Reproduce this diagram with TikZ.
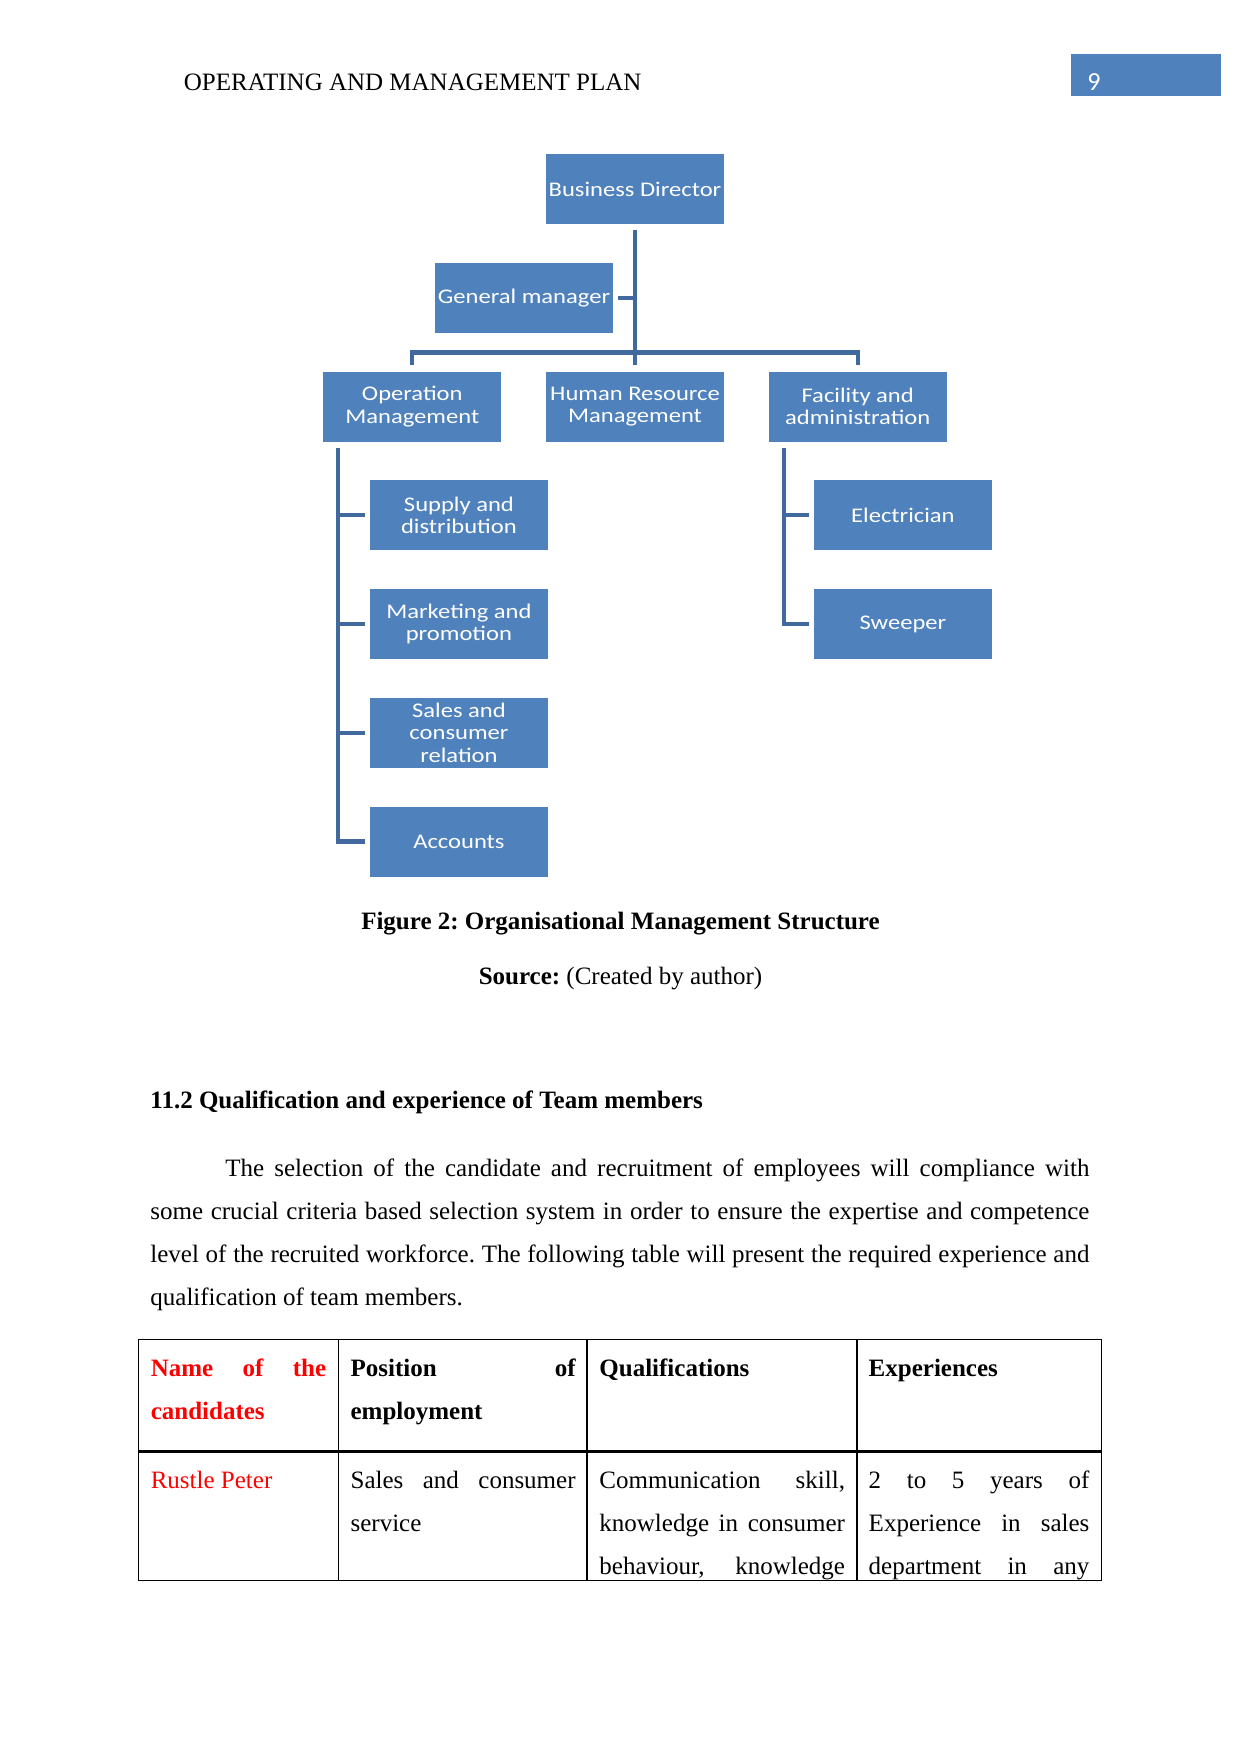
\documentclass[tikz,border=0pt]{standalone}
\usepackage{fontspec}
\setmainfont{Liberation Serif}
\newfontfamily\chartfont[FakeStretch=1.18]{Carlito}
\newfontfamily\numfont{Carlito}
\usepackage{tikz}
\usetikzlibrary{positioning}
\definecolor{boxblue}{HTML}{4F81BD}
\definecolor{linkblue}{HTML}{41699D}
\definecolor{namered}{HTML}{FF0000}
\tolerance=9999
\hbadness=10000
\frenchspacing

\begin{document}
\begin{tikzpicture}[
        x=0.48pt, y=-0.48pt,
        node distance = 18.2pt and 21.1pt,
        unit/.style = {fill=boxblue, text=white, inner sep=0pt, minimum width=85.4pt, minimum height=33.6pt, align=center, font=\chartfont\fontsize{10pt}{10.7pt}\selectfont},
        link/.style = {draw=linkblue, line width=2.1pt},
        body/.style = {inner sep=0pt, font=\fontsize{12pt}{20.74pt}\selectfont},
        cell/.style = {body, anchor=base west, align=justify},
    ]
        \path[use as bounding box, fill=white] (0,0) rectangle (1241,1754);

        % page header
        \node[body, anchor=base west] (head) at (183.5,90) {OPERATING AND MANAGEMENT PLAN};
        \node[fill=boxblue, inner sep=0pt, minimum width=72pt, minimum height=20pt, anchor=north west] (numbox) at (1071,54) {};
        \node[inner sep=0pt, anchor=base west, text=white, font=\numfont\fontsize{12.5pt}{14pt}\selectfont] (pgnum) at (1087,90) {9};

        % organisation chart
        \node[unit] (bd) at (635,189) {Business Director};
        \node[unit, below=of bd, xshift=-53.3pt] (gm) {General manager};
        \node[unit, below=of gm, xshift=53.3pt] (hr) {Human Resource\\Management};
        \node[unit, left=of hr] (op) {Operation\\Management};
        \node[unit, right=of hr] (fac) {Facility and\\administration};
        \node[unit, below=of op, xshift=22.4pt] (sup) {Supply and\\distribution};
        \node[unit, below=of sup] (mkt) {Marketing and\\promotion};
        \node[unit, below=of mkt] (sal) {Sales and\\consumer\\relation};
        \node[unit, below=of sal] (acc) {Accounts};
        \node[unit, below=of fac, xshift=21.7pt] (ele) {Electrician};
        \node[unit, below=of ele] (swp) {Sweeper};

        \coordinate (bar) at ([yshift=8.9pt]hr.north);
        \coordinate (lspine) at ([xshift=7.2pt]op.south west);
        \coordinate (rspine) at ([xshift=7.4pt]fac.south west);
        \draw[link] ([yshift=-2.9pt]bd.south) -- ([yshift=2.9pt]hr.north);
        \draw[link] ([xshift=2.4pt]gm.east) -- (gm.east -| bd.south);
        \draw[link] ([yshift=2.9pt]op.north) -- (op.north |- bar) -- (fac.north |- bar) -- ([yshift=2.9pt]fac.north);
        \draw[link] ([yshift=-2.9pt]lspine) |- ([xshift=-2.4pt]acc.west);
        \foreach \n in {sup,mkt,sal}
            \draw[link] (\n.west -| lspine) -- ([xshift=-2.4pt]\n.west);
        \draw[link] ([yshift=-2.9pt]rspine) |- ([xshift=-2.4pt]swp.west);
        \draw[link] (ele.west -| rspine) -- ([xshift=-2.4pt]ele.west);

        % caption and text
        \node[body, anchor=base, font=\bfseries\fontsize{12pt}{14pt}\selectfont] (fig) at (620.5,929) {Figure 2: Organisational Management Structure};
        \node[body, anchor=base] (src) at (620.5,984) {\textbf{Source:} (Created by author)};
        \node[body, anchor=base west, font=\bfseries\fontsize{12pt}{14pt}\selectfont] (sec) at (150,1108) {11.2 Qualification and experience of Team members};
        \node[cell, text width=450.7pt] (para) at (150,1176) {\hspace*{36pt}The selection of the candidate and recruitment of employees will compliance with\linebreak some crucial criteria based selection system in order to ensure the expertise and competence\linebreak level of the recruited workforce. The following table will present the required experience and\linebreak qualification of team members.};

        % table
        \draw[line width=0.6pt] (138.3,1339.3) rectangle (1101.3,1580.5);
        \foreach \cx in {338.7,586.9,856.9}
            \draw[line width=0.6pt] (\cx,1339.3) -- (\cx,1580.5);
        \draw[line width=1.4pt] (138.3,1451.7) -- (1101.3,1451.7);
        \node[cell, text width=84.2pt, text=namered] (h1) at (150.4,1376) {\textbf{Name of the\linebreak candidates}};
        \node[cell, text width=108pt] (h2) at (350.2,1376) {\textbf{Position of\linebreak employment}};
        \node[cell, text width=117.9pt] (h3) at (599,1376) {\textbf{Qualifications}};
        \node[cell, text width=105.9pt] (h4) at (868.3,1376) {\textbf{Experiences}};
        \node[cell, text width=84.2pt, text=namered] (c1) at (150.4,1488) {Rustle Peter};
        \node[cell, text width=108pt] (c2) at (350.2,1488) {Sales and consumer\linebreak service};
        \node[cell, text width=117.9pt] (c3) at (599,1488) {\parfillskip=0pt Communication skill,\linebreak knowledge in consumer\linebreak behaviour, knowledge\par};
        \node[cell, text width=105.9pt] (c4) at (868.3,1488) {\parfillskip=0pt 2 to 5 years of\linebreak Experience in sales\linebreak department in any\par};
    \end{tikzpicture}
\end{document}
